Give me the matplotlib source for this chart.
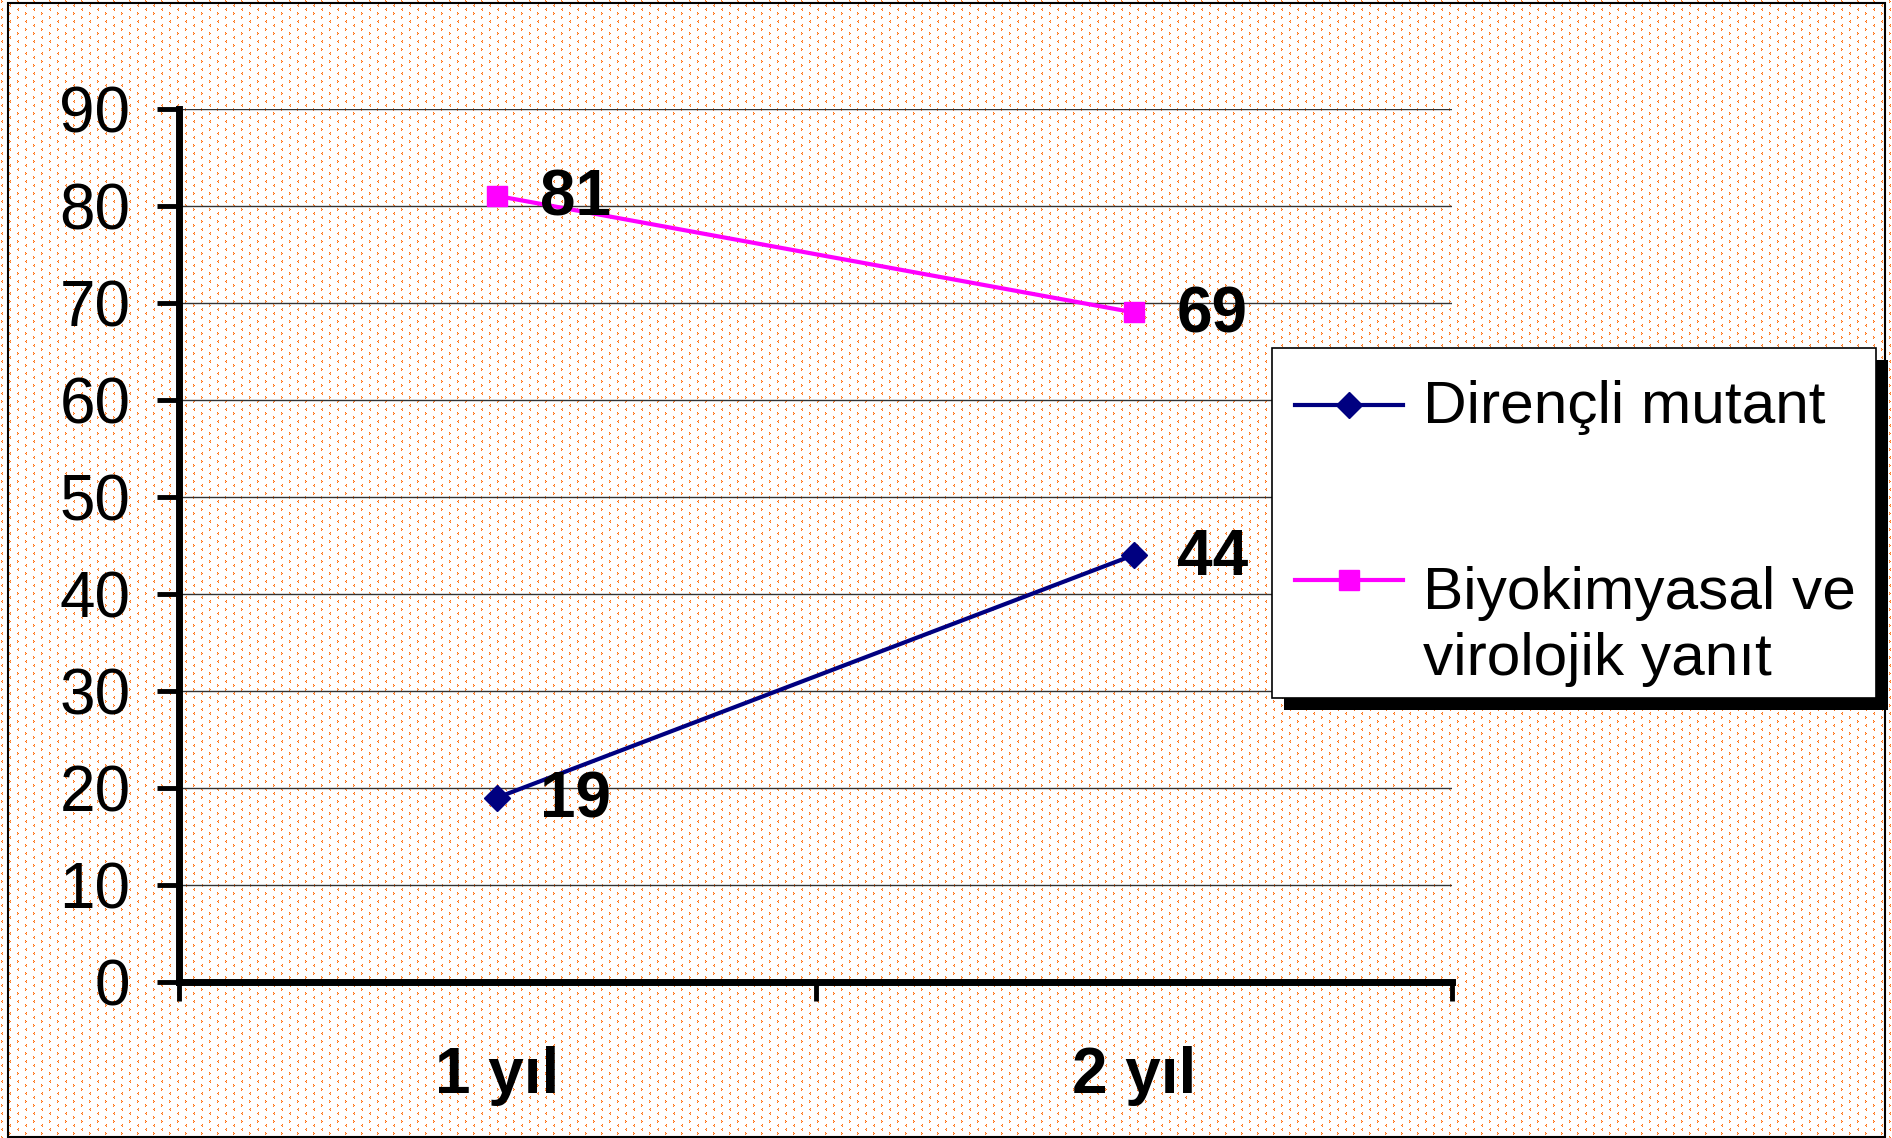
import matplotlib.pyplot as plt
import numpy as np
from matplotlib.lines import Line2D
from matplotlib.patches import Rectangle

categories = ['1 yıl', '2 yıl']
direncli_mutant = [19, 44]
biyokimyasal_yanit = [81, 69]
series_labels = ['Dirençli mutant', 'Biyokimyasal ve\nvirolojik yanıt']
y_ticks = [0, 10, 20, 30, 40, 50, 60, 70, 80, 90]

W, H = 1892, 1138
plt.rcParams['font.family'] = ['Liberation Sans', 'DejaVu Sans']

fig = plt.figure(figsize=(W / 100, H / 100), dpi=100)


def fx(px):
    return px / W


def fy(py):
    # pixel from top -> figure fraction
    return 1 - py / H


# orange chevron pattern behind everything (one small chevron per 8x8 cell)
tile = np.ones((16, 16, 3))
orange = np.array([1.0, 0.45, 0.1])
light = np.array([1.0, 0.7, 0.45])


def chevron(r, c, right):
    tip = c + 1 if right else c
    back = c if right else c + 1
    tile[r, back] = orange
    tile[r + 1, tip] = orange
    tile[r + 2, back] = orange
    tile[r + 1, back] = light


chevron(0, 1, True)
chevron(4, 9, False)
chevron(8, 1, False)
chevron(12, 9, True)
bg = np.tile(tile, (H // 16 + 1, W // 16 + 1, 1))[:H, :W]
fig.figimage(bg, 0, 0, origin='upper', zorder=-5)

ax = fig.add_axes([fx(179), fy(982), fx(1452 - 179), (982 - 108.6) / H])
ax.set_zorder(2)
ax.patch.set_alpha(0)

x = np.arange(len(categories)) + 0.5
ax.plot(x, direncli_mutant, color='#000080', lw=3, marker='D', ms=13.5,
        mew=1, zorder=3, clip_on=False)
ax.plot(x, biyokimyasal_yanit, color='#FF00FF', lw=3, marker='s', ms=15,
        mew=1, zorder=3, clip_on=False)

for xi, v in zip(x, direncli_mutant):
    ax.annotate(str(v), (xi, v), xytext=(31, -2), textcoords='offset points',
                ha='left', va='center', fontsize=46, fontweight='bold')
for xi, v in zip(x, biyokimyasal_yanit):
    ax.annotate(str(v), (xi, v), xytext=(31, -2), textcoords='offset points',
                ha='left', va='center', fontsize=46, fontweight='bold')

ax.set_xlim(0, len(categories))
ax.set_ylim(0, 90)
ax.set_xticks(np.arange(len(categories) + 1))
ax.set_xticklabels([])
ax.set_xticks(x, minor=True)
ax.set_xticklabels(categories, minor=True, fontsize=46, fontweight='bold')
ax.tick_params(axis='x', which='minor', length=0, pad=46)
ax.tick_params(axis='x', which='major', length=14, width=3.5)
ax.set_yticks(y_ticks)
ax.tick_params(axis='y', length=16, width=3.5, pad=19, labelsize=46)
ax.yaxis.grid(True, color='#333333', lw=1)
ax.set_axisbelow(True)
for s in ['top', 'right']:
    ax.spines[s].set_visible(False)
for s in ['left', 'bottom']:
    ax.spines[s].set_linewidth(5)

# legend box with black drop shadow
lx0, ly0, lx1, ly1 = 1272, 348, 1876, 698
fig.add_artist(Rectangle((fx(lx0 + 12), fy(ly1 + 12)), fx(lx1 - lx0), (ly1 - ly0) / H,
                         transform=fig.transFigure, facecolor='black',
                         edgecolor='none', zorder=5))
fig.add_artist(Rectangle((fx(lx0), fy(ly1)), fx(lx1 - lx0), (ly1 - ly0) / H,
                         transform=fig.transFigure, facecolor='white',
                         edgecolor='black', lw=1.2, zorder=6))
# (color, marker, size, handle y, last-line baseline y)
handles = [('#000080', 'D', 13.5, 405, 423), ('#FF00FF', 's', 15, 580, 675)]
for (col, mk, ms, hy, base), lab in zip(handles, series_labels):
    fig.add_artist(Line2D([fx(1295), fx(1403)], [fy(hy), fy(hy)],
                          transform=fig.transFigure, color=col, lw=3, zorder=7))
    fig.add_artist(Line2D([fx(1349)], [fy(hy)], transform=fig.transFigure,
                          color=col, marker=mk, ms=ms, mew=1, zorder=8))
    fig.text(fx(1423), fy(base), lab, fontsize=43.5, ha='left', va='baseline',
             linespacing=1.25, zorder=8)

# outer frame
fig.add_artist(Rectangle((fx(8), fy(1137)), fx(1885 - 8), (1137 - 3) / H,
                         transform=fig.transFigure, fill=False,
                         edgecolor='black', lw=1.5, zorder=9))

fig.savefig('out.png', dpi=100)
